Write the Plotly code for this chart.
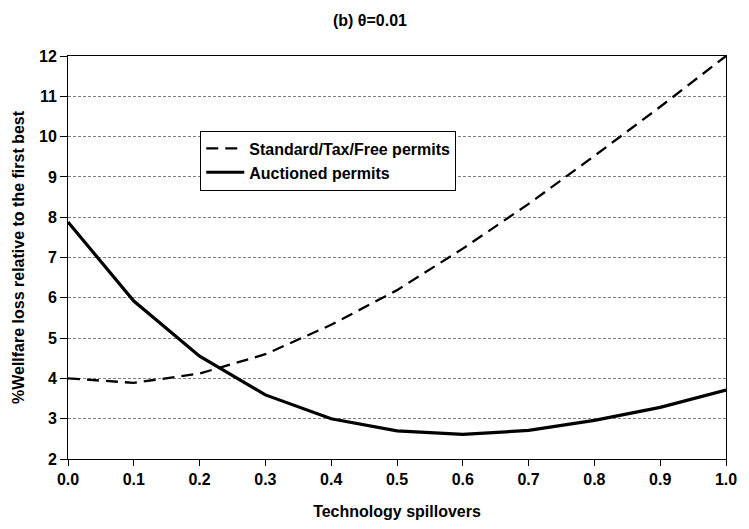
import plotly.graph_objects as go

# Technology spillover levels on the x axis
spillovers = [0.0, 0.1, 0.2, 0.3, 0.4, 0.5, 0.6, 0.7, 0.8, 0.9, 1.0]

# % welfare loss relative to the first best
standard_tax_free = [4.0, 3.89, 4.12, 4.6, 5.33, 6.19, 7.22, 8.33, 9.52, 10.74, 12.0]
auctioned = [7.88, 5.92, 4.55, 3.59, 3.0, 2.70, 2.61, 2.71, 2.96, 3.28, 3.71]

x_ticks = [0.0, 0.1, 0.2, 0.3, 0.4, 0.5, 0.6, 0.7, 0.8, 0.9, 1.0]
y_ticks = list(range(2, 13))

font_family = "Liberation Sans, Arial, sans-serif"
bold16 = dict(family=font_family, size=16, color="black", weight="bold")

fig = go.Figure()
fig.add_trace(go.Scatter(
    x=spillovers, y=standard_tax_free, mode="lines",
    name="Standard/Tax/Free permits",
    line=dict(color="black", width=2.3, dash="12px,7px"),
))
fig.add_trace(go.Scatter(
    x=spillovers, y=auctioned, mode="lines",
    name="Auctioned permits",
    line=dict(color="black", width=3.2),
))

fig.update_layout(
    width=749, height=529,
    margin=dict(l=68, r=13, t=56, b=70),
    paper_bgcolor="white", plot_bgcolor="white",
    font=dict(family=font_family, color="black", size=16),
    title=dict(text="(b) θ=0.01", x=0.494, xanchor="center",
               y=0.962, yanchor="middle",
               font=dict(family=font_family, size=16, color="black", weight="bold")),
    showlegend=True,
    legend=dict(
        x=0.201, xanchor="left", y=0.815, yanchor="top",
        bgcolor="white", bordercolor="black", borderwidth=1,
        font=bold16,
        itemwidth=38, tracegroupgap=0,
    ),
)

fig.update_xaxes(
    range=[0, 1], tickvals=x_ticks,
    ticktext=[f"{v:.1f}" for v in x_ticks],
    ticks="outside", ticklen=6, tickcolor="black", tickwidth=1,
    showline=True, linecolor="black", linewidth=1, mirror=True,
    showgrid=False, zeroline=False,
    tickfont=bold16,
    title=dict(text="Technology spillovers", font=bold16, standoff=18),
)
fig.update_yaxes(
    range=[2, 12], tickvals=y_ticks,
    ticktext=[str(v) for v in y_ticks],
    ticks="outside", ticklen=7, tickcolor="black", tickwidth=1,
    showline=True, linecolor="black", linewidth=1, mirror=True,
    showgrid=True, gridcolor="#808080", gridwidth=1, griddash="3px,2px",
    zeroline=False,
    tickfont=bold16,
    title=dict(text="%Wellfare loss relative to the first best",
               font=bold16, standoff=10),
)

fig.write_html("out.html")
